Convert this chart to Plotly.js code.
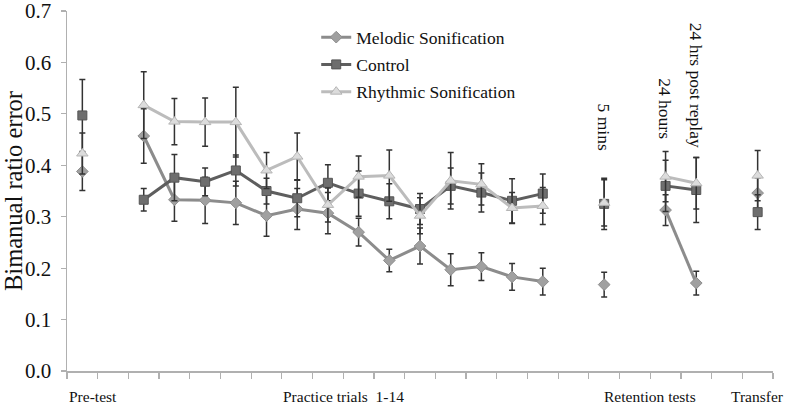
<!DOCTYPE html>
<html>
<head>
<meta charset="utf-8">
<script src="https://cdn.plot.ly/plotly-3.0.1.min.js"></script>
<style>html,body{margin:0;padding:0;background:#fff}#chart{width:787px;height:405px}</style>
</head>
<body>
<div id="chart"></div>
<script>
// Category slots on the x axis (index of each measured point among 23 slots)
const pointNames = ['Pre-test','Trial 1','Trial 2','Trial 3','Trial 4','Trial 5','Trial 6','Trial 7',
  'Trial 8','Trial 9','Trial 10','Trial 11','Trial 12','Trial 13','Trial 14',
  '5 mins','24 hours','24 hrs post replay','Transfer'];
const slotIndex = [0,2,3,4,5,6,7,8,9,10,11,12,13,14,15,17,19,20,22];
// Which points are joined by lines
const segments = [[0],[1,2,3,4,5,6,7,8,9,10,11,12,13,14],[15],[16,17],[18]];

const melodic    = [0.388, 0.457,0.333,0.332,0.327,0.302,0.315,0.307,0.270,0.215,0.243,0.197,0.203,0.183,0.174, 0.168, 0.313,0.171, 0.346];
const melodicErr = [0.037, 0.053,0.042,0.045,0.042,0.040,0.040,0.040,0.027,0.022,0.035,0.031,0.027,0.026,0.026, 0.024, 0.030,0.023, 0.030];
const control    = [0.497, 0.333,0.376,0.368,0.390,0.350,0.336,0.366,0.345,0.330,0.315,0.360,0.347,0.331,0.345, 0.325, 0.360,0.352, 0.309];
const controlErr = [0.070, 0.022,0.045,0.027,0.030,0.025,0.036,0.035,0.044,0.034,0.030,0.035,0.038,0.043,0.038, 0.050, 0.050,0.063, 0.034];
const rhythmic   = [0.423, 0.517,0.485,0.484,0.484,0.390,0.417,0.323,0.378,0.380,0.302,0.370,0.363,0.317,0.321, 0.327, 0.378,0.365, 0.380];
const rhythmicErr= [0.040, 0.065,0.045,0.047,0.068,0.035,0.046,0.033,0.040,0.050,0.035,0.055,0.040,0.030,0.036, 0.045, 0.049,0.050, 0.049];

const yTicks = [0, 0.1, 0.2, 0.3, 0.4, 0.5, 0.6, 0.7];
const yTickLabels = ['0.0','0.1','0.2','0.3','0.4','0.5','0.6','0.7'];
const groupLabels = ['Pre-test','Practice trials  1-14','Retention tests','Transfer'];
const retentionLabels = ['5 mins','24 hours','24 hrs post replay'];

const FONT = '"Liberation Serif", "Times New Roman", Times, serif';

function build(vals, errs) {
  const x = [], y = [], e = [];
  segments.forEach((seg, si) => {
    if (si > 0) { x.push(null); y.push(null); e.push(null); }
    seg.forEach(i => { x.push(slotIndex[i]); y.push(vals[i]); e.push(errs[i]); });
  });
  return {x, y, e};
}

function trace(name, vals, errs, lineColor, symbol, mFill, mLine, size) {
  const d = build(vals, errs);
  return {
    type: 'scatter', mode: 'lines+markers', name: name, legendgroup: name,
    x: d.x, y: d.y, connectgaps: false,
    line: {color: lineColor, width: 3},
    marker: {symbol: symbol, size: size, color: mFill, line: {color: mLine, width: 1}},
    error_y: {type: 'data', array: d.e, visible: true, color: '#333333', thickness: 1.5, width: 3}
  };
}

const data = [
  trace('Melodic Sonification', melodic, melodicErr, '#8c8c8c', 'diamond', '#a0a0a0', '#8e8e8e', 9),
  trace('Control', control, controlErr, '#5e5e5e', 'square', '#6e6e6e', '#555555', 9),
  trace('Rhythmic Sonification', rhythmic, rhythmicErr, '#bcbcbc', 'triangle-up', '#dcdcdc', '#b5b5b5', 10)
];

const annotations = [];
const groupPos = [[-0.5,'left'],[8.5,'center'],[18.5,'center'],[22,'center']];
groupLabels.forEach((t, i) => annotations.push({
  text: t, xref: 'x', yref: 'paper', x: groupPos[i][0], y: -0.07,
  xanchor: groupPos[i][1], yanchor: 'middle', showarrow: false,
  font: {family: FONT, size: 15.5, color: '#111'}
}));
const retPos = [[17, 0.475],[19, 0.51],[20, 0.556]];
retentionLabels.forEach((t, i) => annotations.push({
  text: t, xref: 'x', yref: 'y', x: retPos[i][0], y: retPos[i][1],
  textangle: 90, xanchor: 'center', yanchor: 'middle', showarrow: false,
  font: {family: FONT, size: 17.5, color: '#111'}
}));

const ticks = [];
for (let k = 0; k <= 23; k += 1) ticks.push(k - 0.5);

const layout = {
  width: 787, height: 405,
  margin: {l: 67, r: 14, t: 11, b: 33.5},
  paper_bgcolor: '#fff', plot_bgcolor: '#fff',
  font: {family: FONT, color: '#111'},
  showlegend: true,
  legend: {
    x: 0.353, y: 0.977, xanchor: 'left', yanchor: 'top',
    font: {family: FONT, size: 17.5, color: '#111'},
    bgcolor: 'rgba(0,0,0,0)', traceorder: 'grouped', tracegroupgap: 1.5
  },
  xaxis: {
    range: [-0.5, 22.5], tickvals: ticks, showticklabels: false,
    ticks: 'outside', ticklen: 6, tickcolor: '#b0b0b0', tickwidth: 1.2,
    showline: true, linecolor: '#b0b0b0', linewidth: 1.5,
    showgrid: false, zeroline: false, fixedrange: true
  },
  yaxis: {
    range: [0, 0.7001], tickvals: yTicks, ticktext: yTickLabels, ticklabeloverflow: 'allow',
    ticks: 'outside', ticklen: 5, tickcolor: '#b0b0b0', tickwidth: 1.2,
    showline: true, linecolor: '#b0b0b0', linewidth: 1.5,
    showgrid: false, zeroline: false, ticklabelstandoff: 5,
    tickfont: {family: FONT, size: 21, color: '#111'},
    title: {text: 'Bimanual ratio error', font: {family: FONT, size: 24.5, color: '#111'}, standoff: 6}
  },
  annotations: annotations
};

Plotly.newPlot('chart', data, layout, {displayModeBar: false, staticPlot: true});
</script>
</body>
</html>
